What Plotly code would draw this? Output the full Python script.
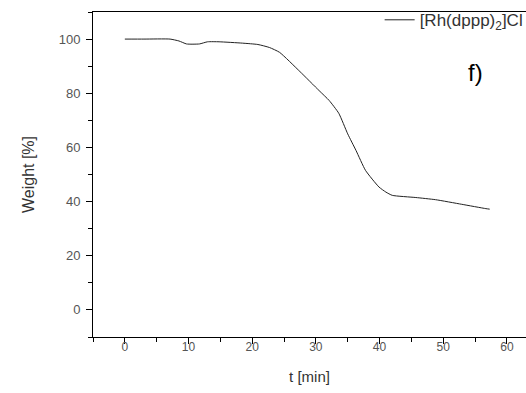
import plotly.graph_objects as go

t_min = [0, 3, 7.1, 8.5, 9.7, 11.7, 13.0, 14.8, 18.5, 20.9, 22.7, 24.3, 27.5, 30.5, 32.1, 33.6,
         35.0, 36.3, 37.8, 39.9, 41.0, 42.0, 45.7, 48.8, 52.9, 56.7, 57.3]
weight = [100, 100, 100, 99.3, 98.2, 98.2, 99.0, 99.0, 98.5, 98.0, 96.9, 95.1, 88.0, 81.0, 77.3, 72.6,
          65.0, 58.9, 51.5, 45.4, 43.5, 42.3, 41.5, 40.7, 39.0, 37.4, 37.2]
series_name = "[Rh(dppp)<sub>2</sub>]Cl"
x_ticks = [0, 10, 20, 30, 40, 50, 60]
y_ticks = [0, 20, 40, 60, 80, 100]

fig = go.Figure()
fig.add_trace(go.Scatter(x=t_min, y=weight, mode="lines", name=series_name,
                         line=dict(color="#222222", width=1, shape="spline", smoothing=0.5)))

font = "Liberation Sans, Arial, sans-serif"
fig.update_layout(
    width=526, height=393,
    margin=dict(l=93, r=0, t=12, b=56, autoexpand=False),
    paper_bgcolor="white", plot_bgcolor="white",
    font=dict(family=font, color="#444444", size=13),
    showlegend=True,
    legend=dict(x=0.662, y=1.03, xanchor="left", yanchor="top", bgcolor="rgba(0,0,0,0)",
                font=dict(size=17, color="#333333"), itemwidth=30, tracegroupgap=0,
                borderwidth=0),
    xaxis=dict(range=[-5, 63], tickvals=x_ticks, showgrid=False, zeroline=False,
               showline=True, linecolor="black", linewidth=1, mirror=True,
               ticks="outside", ticklen=6, tickcolor="black", tickwidth=1,
               ticklabelstandoff=-7, automargin=False,
               minor=dict(dtick=5, tick0=0, ticks="outside", ticklen=4, tickcolor="black"),
               title=dict(text="t [min]", font=dict(size=15, color="#333333"), standoff=18),
               tickfont=dict(size=12, color="#555555")),
    yaxis=dict(range=[-10, 110], tickvals=y_ticks, showgrid=False, zeroline=False,
               showline=True, linecolor="black", linewidth=1, mirror=False,
               ticks="outside", ticklen=6, tickcolor="black", tickwidth=1,
               ticklabelstandoff=3, automargin=False,
               minor=dict(dtick=10, tick0=0, ticks="outside", ticklen=4, tickcolor="black"),
               title=dict(text="Weight [%]", font=dict(size=16, color="#333333"), standoff=20),
               tickfont=dict(size=13, color="#555555")),
    annotations=[dict(text="f)", x=55.1, y=87.5, xref="x", yref="y", showarrow=False,
                      font=dict(size=24, color="black", family=font))],
)
fig.write_html("out.html")
